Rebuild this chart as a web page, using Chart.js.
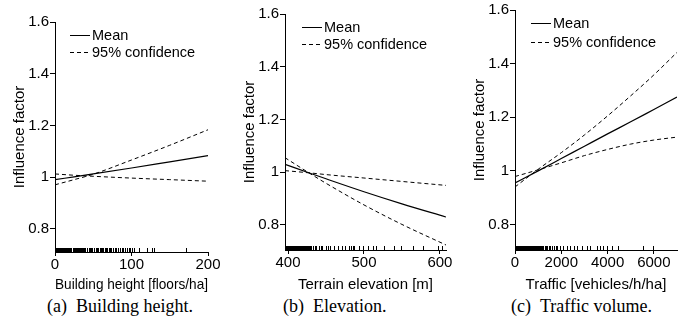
<!DOCTYPE html>
<html lang="en">
<head>
<meta charset="UTF-8">
<title>Influence factors</title>
<script src="https://cdn.jsdelivr.net/npm/chart.js"></script>
<style>
    body { margin: 0; background: #fff; }
    #wrap { position: relative; width: 691px; height: 327px; }
    canvas { position: absolute; top: 0; }
    .cap {
        position: absolute;
        top: 296px;
        font: 18px/20px "Liberation Serif", "Times New Roman", serif;
        color: #000;
        white-space: nowrap;
    }
    .cap span { margin-left: 9px; }
</style>
</head>
<body>
<div id="wrap">
    <canvas id="heightChart" width="230" height="295" style="left:0px"></canvas>
    <canvas id="elevChart" width="230" height="295" style="left:230px"></canvas>
    <canvas id="trafficChart" width="231" height="295" style="left:460px"></canvas>
    <div class="cap" style="left:47px">(a)<span>Building height.</span></div>
    <div class="cap" style="left:283px">(b)<span>Elevation.</span></div>
    <div class="cap" style="left:511px">(c)<span>Traffic volume.</span></div>
</div>
<script>
    // shared tick values
    var yTicks = [0.8, 1, 1.2, 1.4, 1.6];

    // (a) building height
    var heightX = [0, 25, 50, 100, 150, 200];
    var heightMean = [0.99, 1.001, 1.012, 1.035, 1.059, 1.083];
    var heightHi = [0.97, 0.99, 1.011, 1.066, 1.123, 1.183];
    var heightLo = [1.012, 1.007, 1.003, 0.996, 0.99, 0.984];
    var heightTicks = [0, 100, 200];
    var heightRug = [0, 1, 2, 3, 4, 5, 6, 7, 8, 9, 10, 11, 12, 13, 14, 15, 16, 17, 18, 19, 20, 21, 22, 24, 25, 26,
        27, 28, 30, 31, 32, 33, 35, 36, 37, 39, 40, 42, 43, 45, 46, 48, 49, 51, 52, 54, 56, 57, 59, 61, 62, 64, 66,
        67, 69, 71, 72, 74, 76, 77, 79, 81, 83, 85, 86, 88, 90, 92, 95, 97, 99, 101, 104, 111, 121, 127, 130, 172, 200];

    // (b) terrain elevation
    var elevX = [396, 430, 450, 500, 550, 608];
    var elevMean = [1.03, 0.995, 0.975, 0.926, 0.88, 0.83];
    var elevHi = [1.006, 0.997, 0.991, 0.978, 0.965, 0.95];
    var elevLo = [1.055, 0.993, 0.958, 0.876, 0.802, 0.724];
    var elevTicks = [400, 500, 600];
    var elevRug = [396, 397, 398, 399, 400, 401, 402, 403, 404, 405, 406, 407, 408, 409, 410, 411, 412, 413, 414, 415,
        416, 417, 418, 419, 420, 421, 422, 423, 424, 425, 426, 427, 428, 430, 431, 433, 436, 438, 441, 444, 446, 450,
        453, 456, 461, 466, 472, 476, 481, 484, 486, 488, 494, 500, 506, 512, 516, 527, 540, 549, 565, 578, 598, 604];

    // (c) traffic volume
    var trafficX = [0, 1000, 2000, 3000, 4000, 5000, 6000, 7000];
    var trafficMean = [0.955, 1.0, 1.046, 1.092, 1.138, 1.183, 1.229, 1.275];
    var trafficHi = [0.94, 1.006, 1.068, 1.134, 1.205, 1.28, 1.358, 1.442];
    var trafficLo = [0.979, 1.004, 1.03, 1.057, 1.08, 1.1, 1.115, 1.126];
    var trafficTicks = [0, 2000, 4000, 6000];
    var trafficRug = [0, 30, 60, 100, 130, 160, 200, 240, 280, 310, 350, 390, 420, 460, 500, 540, 570, 610, 650, 690,
        720, 760, 800, 850, 890, 930, 980, 1020, 1060, 1110, 1150, 1200, 1250, 1300, 1350, 1420, 1480, 1550, 1620,
        1700, 1780, 1850, 1950, 2090, 2250, 2400, 2550, 2690, 2900, 3120, 3250, 3560, 3690, 3820, 3990, 4200, 4470,
        5560, 5990];

    var FONT = { family: 'Liberation Sans, Arial, sans-serif', size: 15 };
    var LEGEND_FONT = '14.5px Liberation Sans, Arial, sans-serif';

    // rug tick: only the upper half of the image is inked, so it sits on the axis
    var rugMark = document.createElement('canvas');
    rugMark.width = 1;
    rugMark.height = 8;
    var rc = rugMark.getContext('2d');
    rc.fillStyle = '#000';
    rc.fillRect(0, 0, 1, 4);

    // legend drawn inside the plot, top left
    var legendBox = {
        id: 'legendBox',
        afterDraw: function (chart, args, opts) {
            var ctx = chart.ctx, area = chart.chartArea;
            var x0 = area.left + opts.dx;
            var sets = chart.data.datasets.slice(0, 2);
            ctx.save();
            ctx.font = LEGEND_FONT;
            ctx.fillStyle = '#000';
            ctx.strokeStyle = '#000';
            ctx.lineWidth = 1;
            ctx.textBaseline = 'middle';
            sets.forEach(function (ds, i) {
                var y = Math.round(area.top + opts.dy + i * opts.gap) + 0.5;
                ctx.setLineDash(ds.borderDash || []);
                ctx.beginPath();
                ctx.moveTo(x0, y);
                ctx.lineTo(x0 + 20, y);
                ctx.stroke();
                ctx.fillText(ds.label, x0 + 22, y);
            });
            ctx.restore();
        }
    };

    function pts(xs, ys) {
        return xs.map(function (x, i) { return { x: x, y: ys[i] }; });
    }

    function lineSet(label, data, dash) {
        return {
            label: label,
            data: data,
            showLine: true,
            borderColor: '#000',
            borderWidth: dash ? 1 : 1.2,
            borderDash: dash || [],
            pointRadius: 0,
            cubicInterpolationMode: 'monotone'
        };
    }

    function makeChart(id, cfg) {
        var ctx = document.getElementById(id).getContext('2d');
        new Chart(ctx, {
            type: 'scatter',
            data: {
                datasets: [
                    lineSet('Mean', pts(cfg.x, cfg.mean)),
                    lineSet('95% confidence', pts(cfg.x, cfg.hi), [4, 3]),
                    lineSet('95% confidence', pts(cfg.x, cfg.lo), [4, 3]),
                    {
                        label: 'rug',
                        data: cfg.rug.map(function (v) { return { x: v, y: cfg.ymin }; }),
                        pointStyle: rugMark,
                        pointRadius: 3
                    }
                ]
            },
            options: {
                responsive: false,
                animation: false,
                layout: { padding: { top: cfg.top, right: cfg.right, left: 0, bottom: 0 } },
                plugins: {
                    legend: { display: false },
                    tooltip: { enabled: false },
                    legendBox: cfg.legend
                },
                scales: {
                    x: {
                        type: 'linear',
                        min: cfg.xmin,
                        max: cfg.xmax,
                        afterBuildTicks: function (s) {
                            s.ticks = cfg.ticks.map(function (v) { return { value: v }; });
                        },
                        afterFit: function (s) { s.height = cfg.xh; },
                        ticks: {
                            font: FONT, color: '#000', padding: 0, maxRotation: 0,
                            callback: function (v) { return String(v); }
                        },
                        grid: { drawOnChartArea: false, tickLength: 4, color: '#000' },
                        border: { color: '#000', width: 1 },
                        title: { display: true, text: cfg.xtitle, font: FONT, color: '#000', padding: { top: 0, bottom: 1 } }
                    },
                    y: {
                        min: cfg.ymin,
                        max: 1.6,
                        afterBuildTicks: function (s) {
                            s.ticks = yTicks.map(function (v) { return { value: v }; });
                        },
                        afterFit: function (s) { s.width = 55; },
                        ticks: {
                            font: FONT, color: '#000', padding: 1,
                            callback: function (v) { return String(Math.round(v * 10) / 10); }
                        },
                        grid: { drawOnChartArea: false, tickLength: 5, color: '#000' },
                        border: { color: '#000', width: 1 },
                        title: { display: true, text: 'Influence factor', font: FONT, color: '#000', padding: { top: 11, bottom: 0 } }
                    }
                }
            },
            plugins: [legendBox]
        });
    }

    makeChart('heightChart', {
        x: heightX, mean: heightMean, hi: heightHi, lo: heightLo, rug: heightRug, ticks: heightTicks,
        xmin: 0, xmax: 200, ymin: 0.71, top: 22, right: 22, xh: 43,
        xtitle: 'Building height [floors/ha]',
        legend: { dx: 15, dy: 13, gap: 17 }
    });

    makeChart('elevChart', {
        x: elevX, mean: elevMean, hi: elevHi, lo: elevLo, rug: elevRug, ticks: elevTicks,
        xmin: 396, xmax: 608, ymin: 0.705, top: 14, right: 14, xh: 45,
        xtitle: 'Terrain elevation [m]',
        legend: { dx: 17, dy: 13, gap: 17 }
    });

    makeChart('trafficChart', {
        x: trafficX, mean: trafficMean, hi: trafficHi, lo: trafficLo, rug: trafficRug, ticks: trafficTicks,
        xmin: 0, xmax: 7000, ymin: 0.705, top: 10, right: 14, xh: 45,
        xtitle: 'Traffic [vehicles/h/ha]',
        legend: { dx: 16, dy: 13, gap: 19 }
    });
</script>
</body>
</html>
